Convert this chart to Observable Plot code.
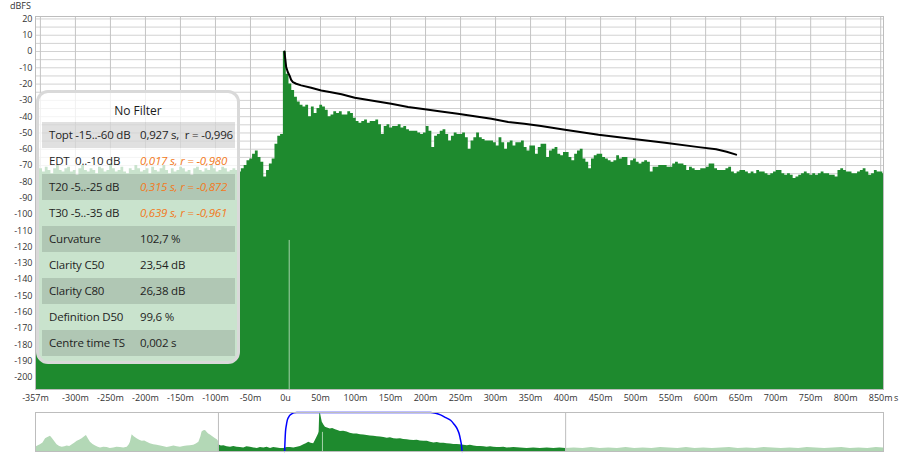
<!DOCTYPE html>
<html>
<head>
<meta charset="utf-8">
<script src="https://cdn.jsdelivr.net/npm/d3@7"></script>
<script src="https://cdn.jsdelivr.net/npm/@observablehq/plot@0.6"></script>
<style>
  html, body { margin: 0; padding: 0; background: #fff; }
  #wrap { position: relative; width: 900px; height: 455px; overflow: hidden; font-family: "Open Sans", sans-serif; }
  #main, #overview { position: absolute; left: 0; }
  #main { top: 0; }
  #overview { top: 405px; }
  #ylab { position: absolute; left: 10px; top: 1px; font-size: 9px; line-height: 9px; color: #333; }
  #xunit { position: absolute; left: 894px; top: 393px; font-size: 9px; line-height: 10px; color: #333; }
  #legend { position: absolute; left: 36px; top: 90px; width: 204px; height: 274px; box-sizing: border-box;
            border: 3px solid #d9d9d9; border-radius: 12px; background: rgba(255,255,255,0.76); }
  #legend .title { position: absolute; left: 0; right: 0; top: 9px; text-align: center; font-size: 12px; color: #1a1a1a; }
  #legend .row { position: absolute; left: 3px; width: 193px; height: 26px; line-height: 26px; font-size: 11.5px; color: #1f1f1f; letter-spacing: -0.2px; }
  #legend .row.dark { background: rgba(0,0,0,0.12); }
  #legend .lab { position: absolute; left: 7px; white-space: pre; }
  #legend .val { position: absolute; left: 98px; white-space: pre; }
  #legend .val.hi { color: #f27a22; font-style: italic; }
</style>
</head>
<body>
<div id="wrap">
  <div id="main"></div>
  <div id="overview"></div>
  <div id="ylab">dBFS</div>
  <div id="xunit">s</div>
  <div id="legend"></div>
</div>
<script>
// ---------- data ----------
const xTicks = [-357, -300, -250, -200, -150, -100, -50, 0, 50, 100, 150, 200, 250, 300, 350, 400, 450, 500, 550, 600, 650, 700, 750, 800, 850];
const xGrid = [-350, -300, -250, -200, -150, -100, -50, 0, 50, 100, 150, 200, 250, 300, 350, 400, 450, 500, 550, 600, 650, 700, 750, 800, 850];
const yTicks = [20, 10, 0, -10, -20, -30, -40, -50, -60, -70, -80, -90, -100, -110, -120, -130, -140, -150, -160, -170, -180, -190, -200];
const yGrid = [20, 15, 10, 5, 0, -5, -10, -15, -20, -25, -30, -35, -40, -45, -50, -55, -60, -65, -70, -75, -80, -85, -90, -95, -100, -105, -110, -115, -120, -125, -130, -135, -140, -145, -150, -155, -160, -165, -170, -175, -180, -185, -190, -195, -200, -205];

// impulse response level (dBFS), one sample every 4 ms starting at -357 ms
const irT0 = -357, irStep = 4;
const irDb = [
  -64, -66,
  -72, -74, -71, -73, -75, -72, -70, -73, -74, -72,
  -71, -74, -73, -76, -72, -70, -73, -74, -72, -73,
  -75, -71, -72, -74, -73, -69, -72, -74, -73, -71,
  -74, -75, -72, -73, -70, -72, -74, -73, -72, -75,
  -71, -73, -74, -72, -70, -73, -75, -72, -74, -73,
  -71, -72, -74, -73, -76, -72, -71, -73, -74, -72,
  -73, -70, -72, -74, -73, -71, -72, -74, -73, -72,
  -73, -74, -72, -70, -67, -66, -63, -61, -65, -68,
  -77, -73, -69, -66, -57, -52, -51, 0, -14, -20,
  -24, -28, -31, -33, -34, -33, -40, -34, -38, -35,
  -33, -34, -36, -40, -39, -37, -38, -37, -39, -39,
  -37, -38, -41, -43, -44, -43, -42, -44, -43, -43,
  -42, -45, -51, -46, -45, -47, -46, -46, -45, -47,
  -46, -48, -49, -49, -49, -50, -51, -50, -46, -49,
  -59, -52, -51, -49, -48, -51, -55, -52, -50, -51,
  -51, -50, -53, -60, -55, -53, -50, -53, -54, -55,
  -55, -55, -56, -58, -53, -56, -60, -56, -55, -58,
  -56, -56, -55, -59, -61, -58, -58, -63, -59, -57,
  -57, -65, -61, -60, -59, -63, -64, -62, -62, -65,
  -67, -63, -61, -60, -66, -68, -72, -66, -64, -63,
  -63, -65, -66, -67, -68, -67, -64, -66, -65, -65,
  -70, -67, -66, -68, -69, -68, -67, -68, -74, -71,
  -71, -70, -70, -70, -71, -71, -69, -68, -69, -69,
  -70, -73, -71, -72, -73, -73, -72, -72, -71, -69,
  -69, -72, -73, -73, -73, -72, -71, -74, -75, -74,
  -73, -73, -74, -75, -74, -75, -73, -74, -74, -75,
  -76, -75, -74, -73, -73, -75, -76, -75, -76, -78,
  -77, -76, -75, -74, -75, -76, -75, -76, -75, -74,
  -75, -75, -76, -76, -77, -73, -72, -73, -74, -74,
  -75, -75, -74, -73, -72, -74, -76, -75, -73, -74,
  -74, -75
];

// Schroeder backward integral [ms, dB]
const schroeder = [
  [-1.5, 0], [1, -9.6], [3.4, -12.7], [5.7, -14.7], [8.1, -17.4], [10.6, -18.8], [15.3, -19.8],
  [22.4, -20.8], [36.7, -22.3], [51, -23.9], [65, -25], [80, -26.2], [99, -28.4], [127, -30.4],
  [151, -32.1], [175, -34.1], [199, -35.5], [222, -36.8], [246, -38.2], [270, -39.8], [294, -41.3],
  [318, -43.3], [341, -44.3], [365, -45.7], [399, -48], [447, -51.1], [494, -53.5], [542, -56],
  [590, -58.7], [615, -60], [630, -61.5], [643.5, -63.3]
];

// overview strip [ms, relative level]
const ovLeft = [
  [-993,-89],[-985,-86],[-976,-83],[-967,-78],[-958,-67],[-950,-64],[-941,-61],[-935,-66],[-929,-72],[-922,-79],
  [-918,-83],[-909,-87],[-900,-89],[-891,-88],[-883,-86],[-874,-87],[-865,-83],[-857,-79],[-848,-74],[-840,-71],
  [-831,-67],[-822,-62],[-816,-59],[-809,-68],[-802,-76],[-793,-82],[-784,-86],[-775,-89],[-767,-91],[-756,-89],
  [-744,-90],[-733,-92],[-721,-91],[-710,-89],[-698,-90],[-686,-91],[-674,-89],[-667,-83],[-663,-76],[-657,-57],
  [-650,-62],[-640,-67],[-631,-71],[-622,-74],[-613,-73],[-605,-76],[-594,-80],[-582,-83],[-570,-84],[-558,-86],
  [-546,-88],[-535,-90],[-523,-88],[-512,-86],[-500,-88],[-489,-89],[-478,-87],[-466,-86],[-455,-85],[-443,-84],
  [-434,-81],[-425,-76],[-418,-62],[-414,-50],[-408,-47],[-402,-46],[-396,-51],[-391,-55],[-385,-58],[-379,-61],
  [-373,-64],[-367,-67],[-361,-70],[-357,-74]
];
const ovMain = [
  [-357,-83],[-347,-86],[-338,-85],[-327,-88],[-315,-89],[-304,-87],[-292,-89],[-281,-90],[-269,-91],[-258,-88],
  [-246,-89],[-234,-91],[-222,-92],[-211,-90],[-199,-91],[-188,-89],[-176,-92],[-165,-90],[-153,-91],[-142,-92],
  [-130,-92],[-118,-90],[-107,-90],[-95,-91],[-83,-89],[-72,-87],[-60,-83],[-52,-80],[-43,-76],[-35,-79],
  [-26,-80],[-20,-72],[-14,-63],[-9,-55],[-7,-50],[-5,-3],[-2,-3],[2,-18],[4,-25],[10,-33],
  [15,-38],[22,-40],[32,-42],[40,-41],[50,-44],[58,-46],[67,-49],[78,-48],[90,-50],[101,-53],
  [113,-55],[125,-55],[137,-57],[148,-58],[160,-59],[171,-60],[183,-61],[195,-62],[206,-63],[218,-64],
  [230,-66],[241,-65],[253,-67],[264,-68],[276,-67],[287,-69],[299,-70],[310,-71],[322,-72],[334,-71],
  [345,-73],[357,-74],[369,-74],[380,-76],[392,-78],[404,-77],[415,-79],[427,-79],[438,-80],[450,-81],
  [461,-82],[473,-82],[484,-83],[496,-84],[508,-85],[519,-84],[531,-86],[543,-87],[554,-87],[566,-88],
  [577,-89],[589,-88],[600,-89],[612,-90],[623,-90],[635,-89],[647,-91],[670,-90],[693,-91],[716,-92],
  [739,-91],[762,-92],[786,-91],[809,-92],[830,-91],[850,-92]
];
const ovRight = [
  [850,-92],[880,-91],[910,-92],[940,-90],[970,-92],[1000,-91],[1030,-92],[1060,-90],[1090,-92],[1120,-91],
  [1150,-92],[1180,-90],[1210,-91],[1240,-92],[1270,-90],[1300,-92],[1330,-91],[1360,-92],[1390,-91],[1420,-90],
  [1450,-92],[1480,-91],[1510,-92],[1540,-90],[1570,-91],[1600,-92],[1630,-91],[1660,-92],[1690,-90],[1720,-91],
  [1750,-92],[1780,-91],[1810,-90],[1840,-92],[1870,-91],[1900,-92],[1930,-90],[1955,-91]
];
const ovWindow = [
  [-127,-100],[-124,-50],[-121,-33],[-118,-21],[-113,-12],[-107,-6],[-101,-3],[-95,-1],[-85,0],
  [380,0],[398,-2],[415,-6],[433,-13],[450,-20],[462,-30],[473,-42],[480,-55],[484,-68],[488,-85],[490,-100]
];

// legend table
const legendTitle = "No Filter";
const legendLabels = ["Topt -15..-60 dB", "EDT  0..-10 dB", "T20 -5..-25 dB", "T30 -5..-35 dB", "Curvature", "Clarity C50", "Clarity C80", "Definition D50", "Centre time TS"];
const legendValues = ["0,927 s,  r = -0,996", "0,017 s, r = -0,980", "0,315 s, r = -0,872", "0,639 s, r = -0,961", "102,7 %", "23,54 dB", "26,38 dB", "99,6 %", "0,002 s"];
const legendOrange = [false, true, true, true, false, false, false, false, false];

// ---------- main chart ----------
const GREEN = "#1e8a2e";
const LIGHT = "#b3d8b6";
const yMin = -207.5, yMax = 21.5;
const irData = irDb.map((db, i) => ({t: irT0 + i * irStep, db}));

const main = Plot.plot({
  width: 900, height: 405,
  marginLeft: 35, marginRight: 17, marginTop: 16, marginBottom: 16,
  style: {fontFamily: "Open Sans", fontSize: "9px", color: "#333", background: "transparent"},
  x: {domain: [-357, 854], ticks: xTicks, tickFormat: d => d === 0 ? "0u" : d + "m", tickSize: 0, tickPadding: 5, label: null},
  y: {domain: [yMin, yMax], ticks: yTicks, tickFormat: d => String(d), tickSize: 0, tickPadding: 3, label: null},
  marks: [
    Plot.ruleY(yGrid, {stroke: "#d2d2d2", strokeWidth: 1}),
    Plot.ruleX(xGrid, {stroke: "#c4c4c4", strokeWidth: 1}),
    Plot.areaY(irData, {x: "t", y1: yMin, y2: "db", curve: "step", fill: GREEN, clip: true}),
    Plot.ruleX([5.3], {y1: yMin, y2: -116, stroke: "#a6d3ab", strokeWidth: 1}),
    Plot.line(schroeder, {x: d => d[0], y: d => d[1], stroke: "#000", strokeWidth: 2}),
    Plot.frame({stroke: "#bdbdbd"})
  ]
});
document.getElementById("main").appendChild(main);

// ---------- overview ----------
const ov = Plot.plot({
  width: 900, height: 50,
  marginLeft: 35, marginRight: 17, marginTop: 7, marginBottom: 4,
  style: {background: "transparent"},
  x: {domain: [-993, 1955], axis: null},
  y: {domain: [-100, 0], axis: null},
  marks: [
    Plot.areaY(ovLeft, {x: d => d[0], y1: -100, y2: d => d[1], fill: LIGHT}),
    Plot.areaY(ovMain, {x: d => d[0], y1: -100, y2: d => d[1], fill: GREEN}),
    Plot.areaY(ovRight, {x: d => d[0], y1: -100, y2: d => d[1], fill: LIGHT}),
    Plot.ruleX([4.6], {y1: -100, y2: -51, stroke: "#a6d3ab"}),
    Plot.ruleX([-357, 850], {stroke: "#bdbdbd"}),
    Plot.line(ovWindow, {x: d => d[0], y: d => d[1], stroke: "#0000ff", strokeWidth: 1.5, curve: "monotone-x"}),
    Plot.frame({stroke: "#bdbdbd"})
  ]
});
document.getElementById("overview").appendChild(ov);

// ---------- legend ----------
const lg = document.getElementById("legend");
const t = document.createElement("div");
t.className = "title"; t.textContent = legendTitle; lg.appendChild(t);
legendLabels.forEach((lab, i) => {
  const row = document.createElement("div");
  row.className = "row" + (i % 2 === 0 ? " dark" : "");
  row.style.top = (29 + i * 26) + "px";
  const a = document.createElement("span"); a.className = "lab"; a.textContent = lab;
  const b = document.createElement("span"); b.className = "val" + (legendOrange[i] ? " hi" : ""); b.textContent = legendValues[i];
  row.appendChild(a); row.appendChild(b); lg.appendChild(row);
});
</script>
</body>
</html>
